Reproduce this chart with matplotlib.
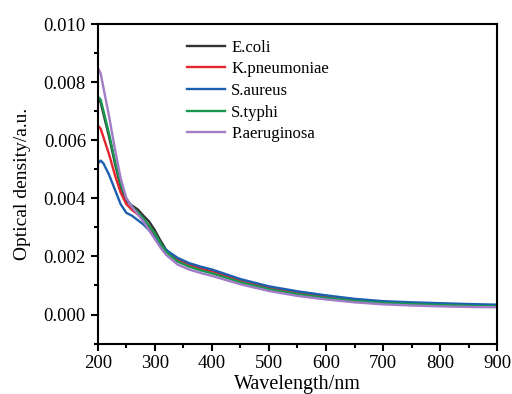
import matplotlib
matplotlib.use("Agg")
import matplotlib.pyplot as plt
from matplotlib.ticker import MultipleLocator

# wavelength (nm)
wavelength = [200, 205, 210, 220, 230, 240, 250, 260, 270, 280, 290, 300, 310, 320,
              340, 360, 380, 400, 450, 500, 550, 600, 650, 700, 750, 800, 850, 900]

e_coli = [0.0075, 0.0073, 0.0069, 0.0061, 0.0052, 0.0044, 0.0039, 0.00375, 0.00362,
          0.0034, 0.0032, 0.0029, 0.00254, 0.00222, 0.00188, 0.00172, 0.0016, 0.0015,
          0.00118, 0.00093, 0.00076, 0.00062, 0.00051, 0.00043, 0.00039, 0.00036,
          0.00033, 0.00031]
k_pneumoniae = [0.0065, 0.0064, 0.0061, 0.0055, 0.0048, 0.0042, 0.0038, 0.0036, 0.00345,
                0.00325, 0.003, 0.0027, 0.0024, 0.00218, 0.00188, 0.0017, 0.00157, 0.00147,
                0.00116, 0.00092, 0.00074, 0.0006, 0.00049, 0.00041, 0.00036, 0.00033,
                0.0003, 0.00028]
s_aureus = [0.0052, 0.0053, 0.0052, 0.0048, 0.0043, 0.0038, 0.0035, 0.0034, 0.00325,
            0.0031, 0.0029, 0.00265, 0.0024, 0.00222, 0.00195, 0.00177, 0.00165, 0.00155,
            0.00122, 0.00097, 0.0008, 0.00066, 0.00054, 0.00046, 0.00042, 0.00039,
            0.00036, 0.00034]
s_typhi = [0.0075, 0.0074, 0.0070, 0.0062, 0.0053, 0.0045, 0.0040, 0.0037, 0.00352,
           0.0033, 0.00305, 0.0028, 0.00245, 0.00215, 0.00182, 0.00165, 0.00152, 0.00142,
           0.00111, 0.00087, 0.0007, 0.00057, 0.00047, 0.0004, 0.00036, 0.00033,
           0.0003, 0.00028]
p_aeruginosa = [0.0085, 0.0083, 0.0078, 0.0068, 0.0057, 0.0047, 0.0040, 0.0037, 0.00345,
                0.0032, 0.0029, 0.0026, 0.0023, 0.00205, 0.00172, 0.00155, 0.00143, 0.00133,
                0.00104, 0.00081, 0.00064, 0.00052, 0.00042, 0.00035, 0.00031, 0.00028,
                0.00026, 0.00025]

labels = ["E.coli", "K.pneumoniae", "S.aureus", "S.typhi", "P.aeruginosa"]
colors = ["#333333", "#e3262e", "#1c5fb0", "#17984e", "#a27cc6"]

plt.rcParams["font.family"] = ["Liberation Serif", "DejaVu Serif"]

fig = plt.figure(figsize=(5.12, 3.94), dpi=100)
ax = fig.add_axes([0.191, 0.128, 0.780, 0.811])

series = [e_coli, k_pneumoniae, s_aureus, s_typhi, p_aeruginosa]
for ys, lab, col in zip(series, labels, colors):
    ax.plot(wavelength, ys, color=col, lw=1.7, label=lab)

ax.set_xlim(200, 900)
ax.set_ylim(-0.001, 0.010)
ax.xaxis.set_major_locator(MultipleLocator(100))
ax.xaxis.set_minor_locator(MultipleLocator(50))
ax.yaxis.set_major_locator(MultipleLocator(0.002))
ax.yaxis.set_minor_locator(MultipleLocator(0.001))
ax.yaxis.set_major_formatter(plt.FormatStrFormatter("%.3f"))

ax.tick_params(which="both", direction="out", width=1.5, labelsize=13.5)
ax.tick_params(which="major", length=5)
ax.tick_params(which="minor", length=3)
for sp in ax.spines.values():
    sp.set_linewidth(1.5)

ax.set_xlabel("Wavelength/nm", fontsize=14.5, labelpad=2)
ax.set_ylabel("Optical density/a.u.", fontsize=14, labelpad=9)

ax.legend(loc="upper left", bbox_to_anchor=(0.206, 0.972), frameon=False,
          fontsize=12, handlelength=2.3, handletextpad=0.36, labelspacing=0.34,
          borderaxespad=0)

fig.savefig("out.png", dpi=100)
